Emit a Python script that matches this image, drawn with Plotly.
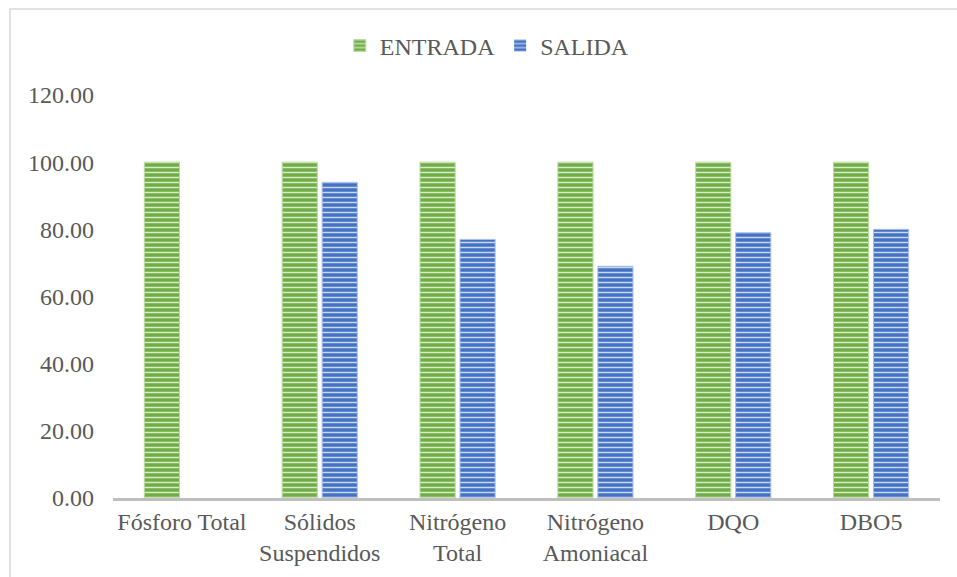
import plotly.graph_objects as go

categories = ["Fósforo Total", "Sólidos<br>Suspendidos", "Nitrógeno<br>Total",
              "Nitrógeno<br>Amoniacal", "DQO", "DBO5"]
entrada = [100, 100, 100, 100, 100, 100]
salida = [0, 94, 77, 69, 79, 80]
y_ticks = [0, 20, 40, 60, 80, 100, 120]

W, H = 957, 577
FONT = "Liberation Serif"
TXT = "#595959"
FS = 24

fig = go.Figure()
fig.add_trace(go.Bar(
    name="ENTRADA", x=categories, y=entrada,
    marker=dict(color="#70ad47",
                line=dict(color="#b9dba0", width=1),
                pattern=dict(shape="-", bgcolor="#70ad47", fgcolor="#d9ecca",
                             size=5, solidity=0.3, fillmode="replace")),
))
fig.add_trace(go.Bar(
    name="SALIDA", x=categories, y=salida,
    marker=dict(color="#4472c4",
                line=dict(color="#a9c0ea", width=[0 if v == 0 else 1 for v in salida]),
                pattern=dict(shape="-", bgcolor="#4472c4", fgcolor="#c9d8f2",
                             size=5, solidity=0.3, fillmode="replace")),
))

fig.update_layout(
    width=W, height=H,
    margin=dict(l=113, r=17, t=95, b=79, autoexpand=False),
    paper_bgcolor="white", plot_bgcolor="white",
    barmode="group", bargap=0.42, bargroupgap=0.12,
    font=dict(family=FONT, size=FS, color=TXT),
    legend=dict(orientation="h", x=0.452, xanchor="center",
                y=(H - 46) / H, yanchor="middle", yref="container",
                font=dict(family=FONT, size=FS, color=TXT),
                itemwidth=30, traceorder="normal"),
    showlegend=True,
)

fig.update_yaxes(range=[0, 120], tickvals=y_ticks, tickformat=".2f",
                 showgrid=False, zeroline=False, showline=False,
                 ticks="", ticklabelstandoff=18,
                 tickfont=dict(family=FONT, size=FS, color=TXT))
fig.update_xaxes(showgrid=False, showline=True, linecolor="#bfbfbf", linewidth=3,
                 ticks="", tickfont=dict(family=FONT, size=FS, color=TXT))

# chart-area frame (left and top edges fall inside the canvas)
fig.add_shape(type="rect", xref="paper", yref="paper",
              x0=(10 - 113) / (W - 130), x1=(W + 20 - 113) / (W - 130),
              y0=-(79 + 20) / 403, y1=(498 - 9) / 403,
              line=dict(color="#d9d9d9", width=1.5), layer="below")

fig.write_html("out.html")
